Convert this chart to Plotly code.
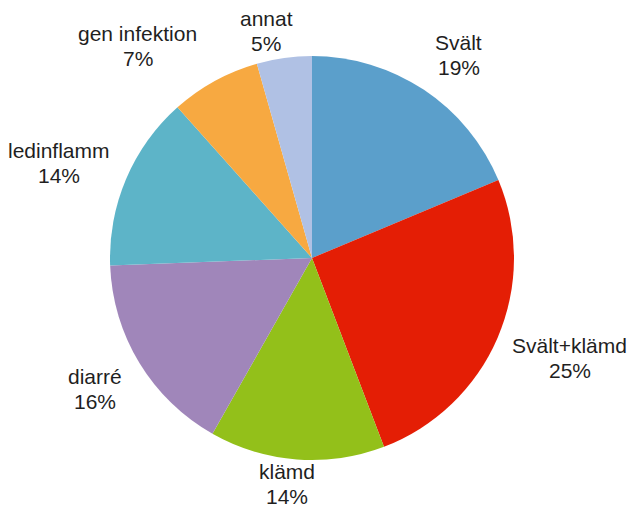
import math
import plotly.graph_objects as go

categories = ["Svält", "Svält+klämd", "klämd", "diarré", "ledinflamm", "gen infektion", "annat"]
shares = [18.7, 25.5, 14.0, 16.2, 14.0, 7.2, 4.4]
percent_labels = ["19%", "25%", "14%", "16%", "14%", "7%", "5%"]
colors = ["#5B9FCB", "#E41E05", "#93C01A", "#A086BA", "#5DB4C8", "#F7A941", "#B0C1E4"]

W, H = 631, 507
# pie placement (pixels)
CX, CY, R = 312, 258, 202
FONT_SIZE = 21
LINE_H = 25
GAP = 14
CHAR_W = 9.8
TEXT_COLOR = "#1f1f1f"
FONT = "Liberation Sans, Arial, sans-serif"

dom_x = [(CX - R) / W, (CX + R) / W]
dom_y = [1 - (CY + R) / H, 1 - (CY - R) / H]

fig = go.Figure(go.Pie(
    labels=categories,
    values=shares,
    textinfo="none",
    sort=False,
    direction="clockwise",
    rotation=0,
    marker=dict(colors=colors, line=dict(width=0)),
    showlegend=False,
    hoverinfo="label+percent",
    domain=dict(x=dom_x, y=dom_y),
))

# label positions derived from the slice mid-angles (Excel-like outside-end placement)
total = sum(shares)
cum = 0.0
annotations = []
for name, val, pct in zip(categories, shares, percent_labels):
    mid = (cum + val / 2) / total * 2 * math.pi
    cum += val
    s, c = math.sin(mid), -math.cos(mid)   # screen dx, dy (y down)
    ax, ay = CX + (R + GAP) * s, CY + (R + GAP) * c
    hw = CHAR_W * max(len(name), len(pct)) / 2
    hh = LINE_H
    fx = math.copysign(min(1.1, 4.7 * abs(s)), s)
    fy = math.copysign(min(1.0, 1.3 * abs(c)), c)
    px = ax + hw * fx
    py = ay + hh * fy + 2
    py = max(31, min(H - 23, py))
    for txt, off in ((name, -LINE_H / 2), (pct, LINE_H / 2)):
        annotations.append(dict(
            x=px / W, y=1 - (py + off) / H, xref="paper", yref="paper",
            text=txt, showarrow=False, xanchor="center", yanchor="middle",
            font=dict(family=FONT, size=FONT_SIZE, color=TEXT_COLOR),
        ))

fig.update_layout(
    width=W, height=H,
    margin=dict(l=0, r=0, t=0, b=0),
    paper_bgcolor="white",
    annotations=annotations,
)
fig.write_html("out.html", config={"displayModeBar": False},
               post_script="document.body.style.margin='0px';")
